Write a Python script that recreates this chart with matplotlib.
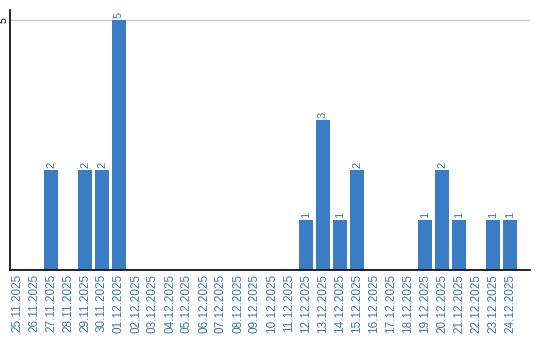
import matplotlib.pyplot as plt

dates = ["25.11.2025", "26.11.2025", "27.11.2025", "28.11.2025", "29.11.2025",
         "30.11.2025", "01.12.2025", "02.12.2025", "03.12.2025", "04.12.2025",
         "05.12.2025", "06.12.2025", "07.12.2025", "08.12.2025", "09.12.2025",
         "10.12.2025", "11.12.2025", "12.12.2025", "13.12.2025", "14.12.2025",
         "15.12.2025", "16.12.2025", "17.12.2025", "18.12.2025", "19.12.2025",
         "20.12.2025", "21.12.2025", "22.12.2025", "23.12.2025", "24.12.2025"]
counts = [0, 0, 2, 0, 2, 2, 5, 0, 0, 0,
          0, 0, 0, 0, 0, 0, 0, 1, 3, 1,
          2, 0, 0, 0, 1, 2, 1, 0, 1, 1]
y_ticks = [5]

BAR_COLOR = "#3b7dc4"
LABEL_COLOR = "#3a78bd"

plt.rcParams["font.family"] = ["Liberation Sans", "DejaVu Sans"]

fig = plt.figure(figsize=(5.4, 3.4), dpi=100)
ax = fig.add_axes([10 / 540, 1 - 270 / 340, 520 / 540, 260 / 340])

x = list(range(len(dates)))
ax.bar(x, counts, width=0.82, color=BAR_COLOR, zorder=2)

for xi, c in zip(x, counts):
    if c > 0:
        ax.text(xi, c + 0.04, str(c), rotation=90, ha="center", va="bottom",
                fontsize=8, color=LABEL_COLOR)

ax.set_xlim(-7 / 17, 29 + 20 / 17)
ax.set_ylim(0, 5.2)
ax.set_xticks(x)
ax.set_xticklabels(dates, rotation=90, fontsize=8.5, color=LABEL_COLOR, va="top")
ax.set_yticks(y_ticks)
ax.set_yticklabels([str(v) for v in y_ticks], rotation=90, fontsize=7.5, va="center")
ax.tick_params(axis="both", length=0, pad=3)
ax.tick_params(axis="y", pad=1)
ax.grid(axis="y", color="#cccccc", linewidth=1, zorder=0)

ax.spines["top"].set_visible(False)
ax.spines["right"].set_visible(False)
ax.spines["left"].set_linewidth(1.2)
ax.spines["bottom"].set_linewidth(1.2)

fig.savefig("out.png", dpi=100)
